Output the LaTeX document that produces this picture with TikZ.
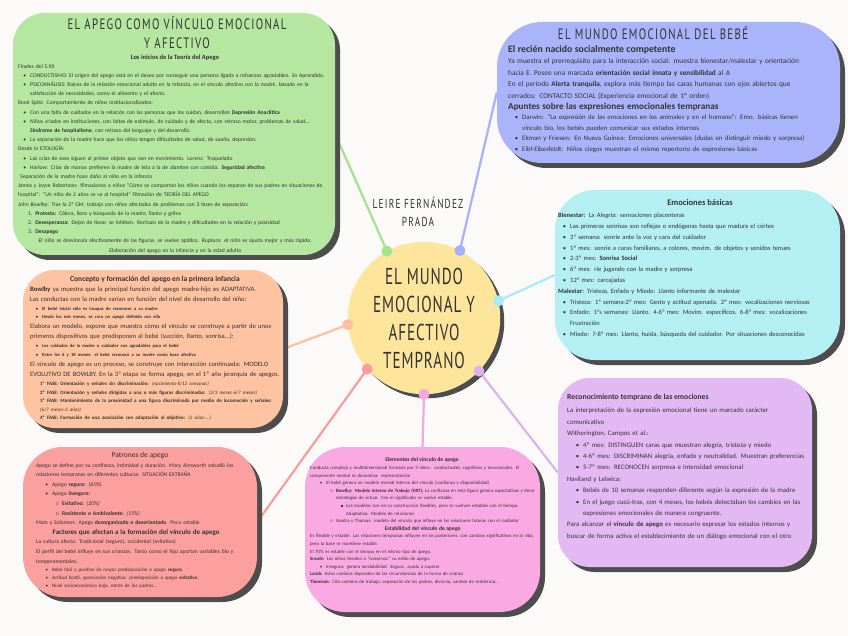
\documentclass[tikz,border=0pt]{standalone}
\usepackage{fontspec}
\setmainfont{Carlito}
\newfontfamily\handfont[FakeStretch=0.72,LetterSpace=9]{PT Sans}
\newfontfamily\centrefont[FakeStretch=0.66,LetterSpace=4]{PT Sans}
\usepackage{tikz}
\usetikzlibrary{shadows,backgrounds}
\definecolor{Paper}{HTML}{FBFAF8}
\definecolor{Ink}{HTML}{333333}
\definecolor{Shade}{HTML}{4D4D4D}
\definecolor{Leaf}{HTML}{B5E7A0}
\definecolor{LeafLine}{HTML}{A3E28F}
\definecolor{Sky}{HTML}{AAB4FA}
\definecolor{SkyLine}{HTML}{A6B1FB}
\definecolor{Aqua}{HTML}{B4EFF3}
\definecolor{AquaLine}{HTML}{A6ECF3}
\definecolor{Peach}{HTML}{FEC3A0}
\definecolor{PeachLine}{HTML}{FDC09B}
\definecolor{Rose}{HTML}{FC9F9F}
\definecolor{RoseLine}{HTML}{FB9C9C}
\definecolor{Pink}{HTML}{FBA9E3}
\definecolor{PinkLine}{HTML}{F9A6DF}
\definecolor{Lilac}{HTML}{E3B9F3}
\definecolor{LilacLine}{HTML}{DCB3EF}
\definecolor{Butter}{HTML}{FDE59C}
\hyphenpenalty=10000
\exhyphenpenalty=10000
\newcommand\bitem[1]{\par\hangindent=12pt\hangafter=0\noindent\llap{\textbullet\hspace{4pt}}#1}
\newcommand\sitem[1]{\par\hangindent=22pt\hangafter=0\noindent\llap{$\circ$\hspace{3pt}}#1}
\newcommand\titem[1]{\par\hangindent=32pt\hangafter=0\noindent\llap{\rule[0.3ex]{2pt}{2pt}\hspace{3pt}}#1}
\tikzset{
  card/.style={fill=#1, rounded corners=32pt,
    drop shadow={shadow xshift=5pt, shadow yshift=-5pt, opacity=1, fill=Shade}},
  link/.style={draw=#1, line width=2.2pt},
  blob/.style={circle, fill=#1, inner sep=0pt, minimum size=11pt},
  txt/.style={anchor=north west, inner sep=0pt, align=left, text=Ink},
  head/.style={inner sep=0pt, align=center, text=Ink},
}
\begin{document}
\begin{tikzpicture}[x=1pt,y=-1pt]
\useasboundingbox (0,0) rectangle (848,636);

% cards
\node[card=Leaf, minimum width=322pt, minimum height=242pt] (apego) at (174,134) {};
\node[card=Sky, rounded corners=45pt, minimum width=343pt, minimum height=141pt] (mundo) at (668.5,92.5) {};
\node[card=Aqua, rounded corners=40pt, minimum width=285pt, minimum height=170pt] (basicas) at (697.5,275) {};
\node[card=Peach, minimum width=260pt, minimum height=158pt] (concepto) at (153,349) {};
\node[card=Rose, rounded corners=40pt, minimum width=234pt, minimum height=150pt] (patrones) at (140,522) {};
\node[card=Pink, rounded corners=40pt, minimum width=235pt, minimum height=165pt] (elementos) at (422.5,529.5) {};
\node[card=Lilac, minimum width=254pt, minimum height=189pt] (recono) at (685,472.5) {};
\node[circle, fill=Butter, minimum size=152pt,
  drop shadow={shadow xshift=4pt, shadow yshift=-4pt, opacity=1, fill=Shade},
  text=Ink, align=center, font=\centrefont\fontsize{23}{28}\selectfont] (hub) at (424,318)
  {EL MUNDO\\EMOCIONAL Y\\AFECTIVO\\TEMPRANO};

\begin{pgfonlayer}{background}
\fill[Paper] (0,0) rectangle (848,636);
\foreach \ang/\dest/\col in {119/apego.east/LeafLine, 62/mundo.west/SkyLine,
  13/basicas.west/AquaLine, 185/concepto.east/PeachLine, 222/patrones.east/RoseLine,
  270/elementos.north/PinkLine, 316/recono.west/LilacLine}
  \draw[link=\col] (hub.\ang) -- (\dest);
\end{pgfonlayer}
\foreach \ang/\col [count=\i] in {119/LeafLine, 62/SkyLine, 13/AquaLine, 185/PeachLine,
  222/RoseLine, 270/PinkLine, 316/LilacLine}
  \node[blob=\col] (dot\i) at (hub.\ang) {};

\node[font=\handfont\fontsize{13}{18}\selectfont, head, text=Ink] (autora) at (418,212) {LEIRE FERNÁNDEZ\\PRADA};

% green card
\node[head, font=\handfont\fontsize{15}{19}\selectfont] (apegohead) at (177,33)
  {EL APEGO COMO VÍNCULO EMOCIONAL\\Y AFECTIVO};
\node[head, font=\bfseries\fontsize{6.5}{8}\selectfont] (apegosub) at (175,57.5)
  {Los inicios de la Teoría del Apego};
\node[txt, text width=314pt, font=\fontsize{5.6}{9.2}\selectfont] (apegotxt) at (18,64) {%
Finales del S.XX
\bitem{CONDUCTISMO: El origen del apego está en el deseo por conseguir una persona ligada a refuerzos agradables. Es Aprendido.}
\bitem{PSICOANÁLISIS: Raíces de la relación emocional adulta en la infancia, en el vínculo afectivo con la madre, basado en la satisfacción de necesidades, como el alimento y el afecto.}
\par\noindent René Spitz: Comportamiento de niños institucionalizados:
\bitem{Con una falta de cuidados en la relación con las personas que los cuidan, desarrollan \textbf{Depresión Anaclítica}}
\bitem{Niños criados en instituciones, con faltas de estímulo, de cuidado y de afecto, con retraso motor, problemas de salud... \textbf{Síndrome de hospitalismo}, con retraso del lenguaje y del desarrollo.}
\bitem{La separación de la madre hace que los niños tengan dificultades de salud, de sueño, depresión.}
\par\noindent Desde la ETOLOGÍA:
\bitem{Las crías de aves siguen al primer objeto que ven en movimiento. Lorenz: Troquelado}
\bitem{Harlow: Crías de monos prefieren la madre de tela a la de alambre con comida. \textbf{Seguridad afectiva}}
\par\noindent\hspace*{2pt}Separación de la madre hace daño al niño en la infancia
\par\noindent James y Joyce Robertson: filmaciones a niños ``Cómo se comportan los niños cuando los separan de sus padres en situaciones de hospital'': ``Un niño de 2 años se va al hospital'' Filmación de TEORÍA DEL APEGO
\par\noindent John Bowlby: Tras la 2ª GM, trabaja con niños afectados de problemas con 3 fases de separación:
\par\noindent\hspace*{10pt}1. \textbf{Protesta:} Cólera, lloro y búsqueda de la madre, llanto y gritos
\par\noindent\hspace*{10pt}2. \textbf{Desesperanza:} Dejan de llorar, se inhiben. Rechazo de la madre y dificultades en la relación y pasividad
\par\noindent\hspace*{10pt}3. \textbf{Desapego}
\par\centerline{El niño se desvincula afectivamente de las figuras, se vuelve apático. Ruptura: el niño se ajusta mejor y más rápido.}
\par\centerline{Elaboración del apego en la infancia y en la edad adulta}\par};

% blue card
\node[head, font=\handfont\fontsize{15}{19}\selectfont] (mundohead) at (653,33)
  {EL MUNDO EMOCIONAL DEL BEBÉ};
\node[txt, text width=298pt, font=\fontsize{7.3}{11.4}\selectfont] (mundotxt) at (508,45.5) {%
{\bfseries\fontsize{9.8}{11}\selectfont El recién nacido socialmente competente}
\par\noindent Ya muestra el prerrequisito para la interacción social: muestra bienestar/malestar y orientación hacia E. Posee una marcada \textbf{orientación social innata y sensibilidad} al A
\par\noindent En el periodo \textbf{Alerta tranquila}, explora más tiempo las caras humanas con ojos abiertos que cerrados: CONTACTO SOCIAL (Experiencia emocional de 1º orden)
\par\noindent{\bfseries\fontsize{9.2}{15}\selectfont Apuntes sobre las expresiones emocionales tempranas}
\par\fontsize{6.8}{10.4}\selectfont\leftskip=2pt
\bitem{Darwin: ``La expresión de las emociones en los animales y en el humano'': Emo. básicas tienen vínculo bio, los bebés pueden comunicar sus estados internos}
\bitem{Ekman y Friesen: En Nueva Guinea: Emociones universales (dudas en distinguir miedo y sorpresa)}
\bitem{Eibl-Eibesfeldt: Niños ciegos muestran el mismo repertorio de expresiones básicas}\par};

% cyan card
\node[head, font=\bfseries\fontsize{8.5}{10}\selectfont] (basicashead) at (700,203) {Emociones básicas};
\node[txt, text width=262pt, font=\fontsize{6.5}{10.8}\selectfont] (basicastxt) at (558,213) {%
\textbf{Bienestar:} La Alegría: sensaciones placenteras
\bitem{Las primeras sonrisas son reflejas o endógenas hasta que madura el córtex}
\bitem{3ª semana: sonríe ante la voz y cara del cuidador}
\bitem{1º mes: sonríe a caras familiares, a colores, movim. de objetos y sonidos tenues}
\bitem{2-3º mes: \textbf{Sonrisa Social}}
\bitem{6º mes: ríe jugando con la madre y sorpresa}
\bitem{12º mes: carcajadas}
\par\noindent\textbf{Malestar:} Tristeza, Enfado y Miedo: Llanto informante de malestar
\bitem{Tristeza: 1ª semana-2º mes: Gesto y actitud apenada. 2º mes: vocalizaciones nerviosas}
\bitem{Enfado: 1ªs semanas: Llanto. 4-6º mes: Movim. específicos. 6-8º mes: vocalizaciones\newline Frustración}
\bitem{Miedo: 7-8º mes: Llanto, huida, búsqueda del cuidador. Por situaciones desconocidas}\par};

% orange card
\node[head, font=\bfseries\fontsize{7.5}{9}\selectfont] (conceptohead) at (155,280)
  {Concepto y formación del apego en la primera infancia};
\node[txt, text width=250pt, font=\fontsize{6.6}{10}\selectfont] (conceptotxt) at (30,287) {%
\textbf{Bowlby} ya muestra que la principal función del apego madre-hijo es ADAPTATIVA.
\par\noindent Las conductas con la madre varían en función del nivel de desarrollo del niño:
\par{\bfseries\fontsize{4.6}{8.5}\selectfont
\bitem{El bebé inicial sólo es incapaz de reconocer a su madre}
\bitem{Desde los seis meses, se crea un apego definido con ella}\par}
\noindent Elabora un modelo, expone que muestra cómo el vínculo se construye a partir de unos primeros dispositivos que predisponen al bebé (succión, llanto, sonrisa...):
\par{\bfseries\fontsize{4.6}{9}\selectfont
\bitem{Los cuidados de la madre o cuidador son agradables para el bebé}
\bitem{Entre los 6 y 18 meses: el bebé reconoce a su madre como base afectiva}\par}
\noindent El vínculo de apego es un proceso, se construye con interacción continuada: MODELO EVOLUTIVO DE BOWLBY. En la 3ª etapa se forma apego, en el 1º año jerarquía de apegos.
\par{\bfseries\fontsize{5}{8.6}\selectfont\leftskip=10pt
\noindent 1ª FASE: Orientación y señales sin discriminación: \textit{\mdseries(nacimiento-8/12 semanas)}
\par\noindent 2ª FASE: Orientación y señales dirigidas a una o más figuras discriminadas: \textit{\mdseries(2/3 meses-6/7 meses)}
\par\noindent 3ª FASE: Mantenimiento de la proximidad a una figura discriminada por medio de locomoción y señales: \textit{\mdseries(6/7 meses-2 años)}
\par\noindent 4ª FASE: Formación de una asociación con adaptación al objetivo: \textit{\mdseries(2 años-...)}\par}};

% salmon card
\node[head, font=\fontsize{7.5}{9}\selectfont] (patroneshead) at (140,456) {Patrones de apego};
\node[txt, text width=200pt, font=\fontsize{5.6}{9.6}\selectfont] (patronestxt) at (36,463) {%
Apego se define por su confianza, intimidad y duración. Mary Ainsworth estudió las relaciones tempranas en diferentes culturas: SITUACIÓN EXTRAÑA
\par\leftskip=4pt
\bitem{Apego \textbf{seguro:} \textit{(65\%)}}
\bitem{Apego \textbf{inseguro:}}
\sitem{\textbf{Evitativo:} \textit{(20\%)}}
\sitem{\textbf{Resistente o Ambivalente:} \textit{(15\%)}}
\par\leftskip=0pt\noindent Main y Solomon: Apego \textbf{desorganizado o desorientado}. Poco estable
\par\centerline{\bfseries\fontsize{7}{9.6}\selectfont Factores que afectan a la formación del vínculo de apego}
\par\noindent La cultura afecta: Tradicional (seguro), occidental (evitativo)
\par\noindent El perfil del bebé influye en sus crianzas. Tanto como el hijo aportan variables bio y temperamentales.
\par{\fontsize{5}{8.2}\selectfont\leftskip=4pt
\bitem{Bebé fácil y positivo da mayor predisposición a apego \textbf{seguro}}
\bitem{Actitud hostil, apreciación negativa: predisposición a apego \textbf{evitativo}}
\bitem{Nivel socioeconómico bajo, estrés de los padres...}\par}};

% pink card
\node[head, font=\bfseries\fontsize{5.6}{7}\selectfont] (elementoshead) at (422,460) {Elementos del vínculo de apego};
\node[txt, text width=225pt, font=\fontsize{4.8}{7.6}\selectfont] (elementostxt) at (310,466) {%
Conducta compleja y multidimensional formada por 3 elem.: conductuales, cognitivos y emocionales. El componente mental se denomina: representación
\par\leftskip=4pt
\bitem{El bebé genera un modelo mental interno del vínculo (confianza y disponibilidad)}
\sitem{\textbf{Bowlby: Modelo Interno de Trabajo (MIT):} La confianza en esta figura genera expectativas y tiene estrategias de actuar. Con el significado se vuelve estable.}
\titem{Los modelos son en su construcción flexibles, pero se vuelven estables con el tiempo. Adaptativo: Modelo de relaciones}
\sitem{Sandra y Thomas: modelo del vínculo que influye en las relaciones futuras con el cuidador}
\par\leftskip=0pt\centerline{\bfseries\fontsize{5.6}{7.6}\selectfont Estabilidad del vínculo de apego}
\par\noindent Es flexible y estable. Las relaciones tempranas influyen en las posteriores, con cambios significativos en la vida, pero la base se mantiene estable.
\par\noindent El 70\% es estable con el tiempo en el mismo tipo de apego.
\par\noindent\textbf{Sroufe:} Los niños tienden a ``conservar'' su estilo de apego:
\par\leftskip=4pt
\bitem{Inseguro: genera inestabilidad. Seguro: ayuda a superar}
\par\leftskip=0pt\noindent\textbf{Lamb:} Estos cambios dependen de las circunstancias de la forma de crianza
\par\noindent\textbf{Thomson:} Cita cambios de trabajo, separación de los padres, divorcio, cambio de residencia...\par};

% lilac card
\node[head, anchor=west, font=\bfseries\fontsize{7.7}{10}\selectfont] (reconohead) at (567,397)
  {Reconocimiento temprano de las emociones};
\node[txt, text width=243pt, font=\fontsize{6.8}{11.4}\selectfont] (reconotxt) at (567,408) {%
La interpretación de la expresión emocional tiene un marcado carácter\newline comunicativo
\par\noindent Witherington, Campos et al.:
\par\leftskip=4pt
\bitem{4º mes: DISTINGUEN caras que muestran alegría, tristeza y miedo}
\bitem{4-6º mes: DISCRIMINAN alegría, enfado y neutralidad. Muestran preferencias}
\bitem{5-7º mes: RECONOCEN sorpresa e intensidad emocional}
\par\leftskip=0pt\noindent Haviland y Lelwica:
\par\leftskip=4pt
\bitem{Bebés de 10 semanas responden diferente según la expresión de la madre}
\bitem{En el juego cucú-tras, con 4 meses, los bebés detectaban los cambios en las expresiones emocionales de manera congruente.}
\par\leftskip=0pt\noindent Para alcanzar el \textbf{vínculo de apego} es necesario expresar los estados internos y buscar de forma activa el establecimiento de un diálogo emocional con el otro\par};
\end{tikzpicture}
\end{document}
